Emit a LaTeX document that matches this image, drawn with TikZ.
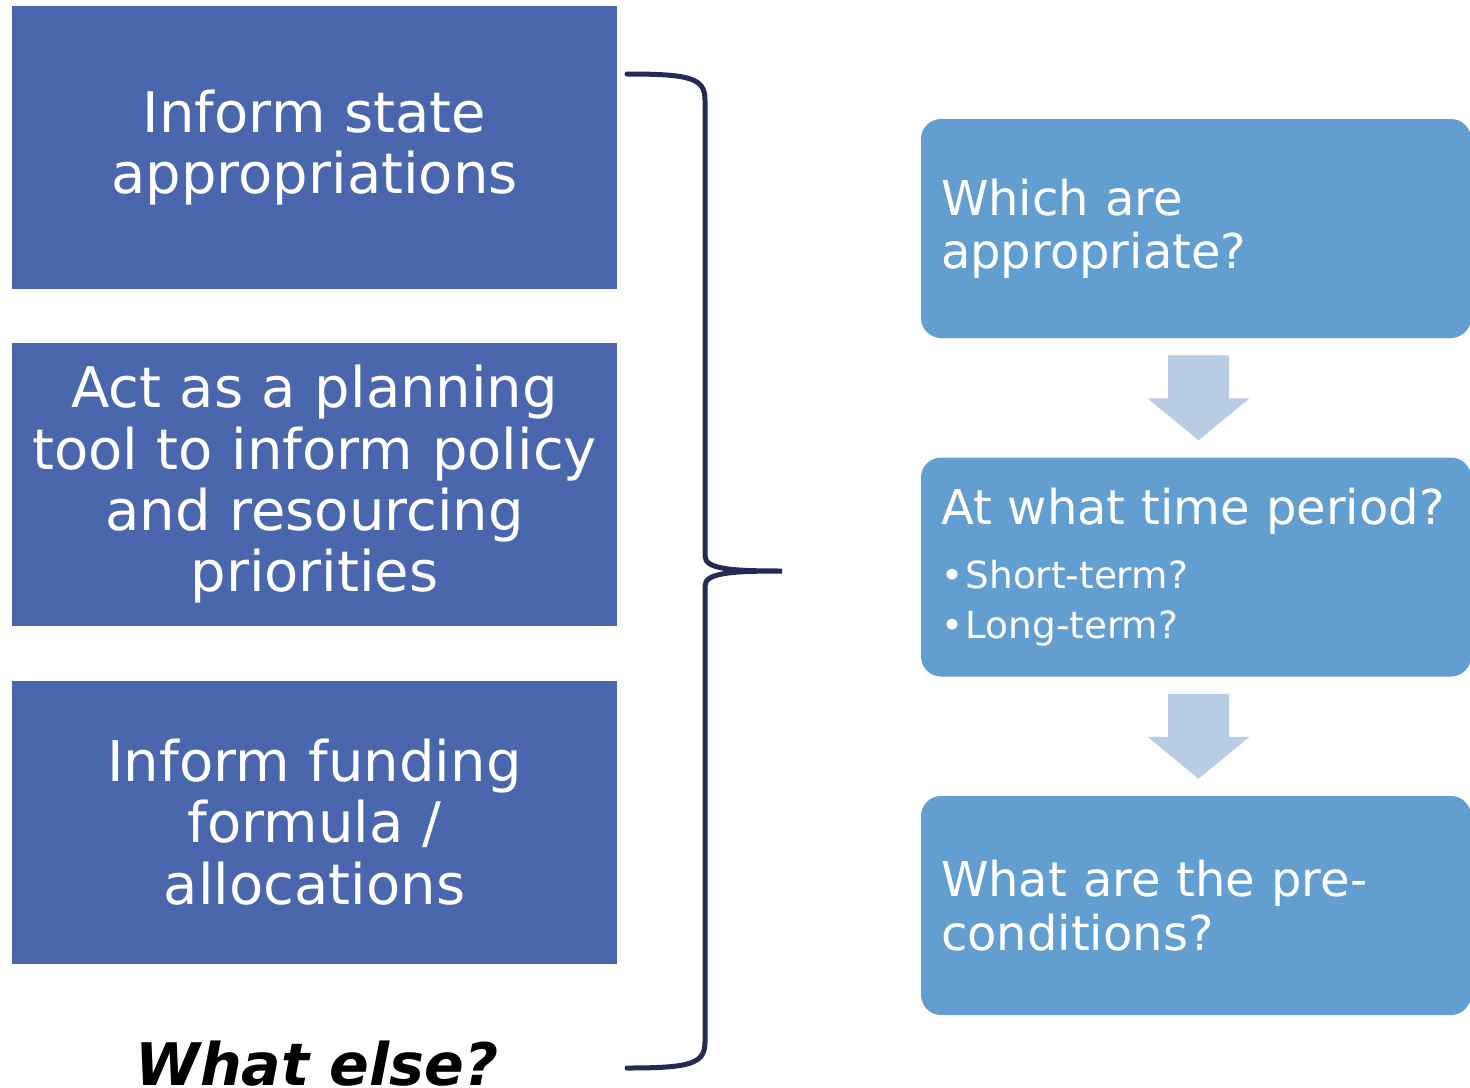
\documentclass[tikz,border=0pt]{standalone}
\usepackage{fontspec}
\setmainfont{DejaVu Sans}
\usetikzlibrary{calc}
\definecolor{goalblue}{HTML}{4A67AE}
\definecolor{questblue}{HTML}{629ED0}
\definecolor{stepblue}{HTML}{B8CCE4}
\definecolor{bracenavy}{HTML}{252A55}

\begin{document}
\begin{tikzpicture}[
    x=0.75pt, y=-0.75pt,
    goalbox/.style={fill=goalblue, text=white, inner sep=0pt,
      minimum width=453.75pt, minimum height=212.25pt,
      text width=445pt, align=center, font=\fontsize{42}{46}\selectfont},
    questbox/.style={fill=questblue, text=white, rounded corners=15pt,
      inner xsep=15pt, inner ysep=0pt,
      minimum width=412.5pt, minimum height=164.25pt,
      text width=382.5pt, align=left, font=\fontsize{36}{40}\selectfont},
    stepdown/.style={fill=stepblue},
    ]
    \useasboundingbox (0,0) rectangle (1470,1088);

    % what the projections are for
    \node[goalbox] (state) at (314.5,147.5) {Inform state\\appropriations};
    \node[goalbox] (plan) at (314.5,484.5)
    {Act as a planning\\tool to inform policy\\and resourcing\\priorities};
    \node[goalbox] (formula) at (314.5,822) {Inform funding\\formula /\\allocations};
    \node[anchor=base, font=\fontsize{44}{46}\selectfont\bfseries\itshape]
    (else) at (317,1085) {What else?};

    % brace
    \coordinate (btop) at (627,74);
    \coordinate (btip) at (782,571);
    \coordinate (bbot) at (627,1068);
    \draw[bracenavy, line width=3.75pt, line cap=round]
    (btop) .. controls (690,74) and (705,78) .. (705,100)
    -- (705,556) .. controls (705,569) and (730,571) .. (btip)
    .. controls (730,571) and (705,573) .. (705,586)
    -- (705,1042) .. controls (705,1064) and (690,1068) .. (bbot);

    % questions
    \node[questbox] (which) at (1196,228.5) {Which are\\appropriate?};
    \node[questbox] (period) at (1196,567)
    {At what time period?\\[8pt]
      {\fontsize{28}{37}\selectfont\textbullet\hspace{2pt}Short-term?}\\[-3pt]
      {\fontsize{28}{37}\selectfont\textbullet\hspace{2pt}Long-term?}};
    \node[questbox] (precond) at (1196,905.5) {What are the pre-\\conditions?};

    % block arrows between the questions
    \coordinate (s1) at ($(which.south)!0.5!(period.north)+(2.5,0)$);
    \coordinate (s2) at ($(period.south)!0.5!(precond.north)+(2.5,0)$);
    \fill[stepdown] ($(s1)+(-30.5,-42.5)$) -- ++(61,0) -- ++(0,43) -- ++(20.5,0)
    -- ($(s1)+(0,42.5)$) -- ($(s1)+(-51,0.5)$) -- ++(20.5,0) -- cycle;
    \fill[stepdown] ($(s2)+(-30.5,-42.5)$) -- ++(61,0) -- ++(0,43) -- ++(20.5,0)
    -- ($(s2)+(0,42.5)$) -- ($(s2)+(-51,0.5)$) -- ++(20.5,0) -- cycle;
  \end{tikzpicture}
\end{document}
